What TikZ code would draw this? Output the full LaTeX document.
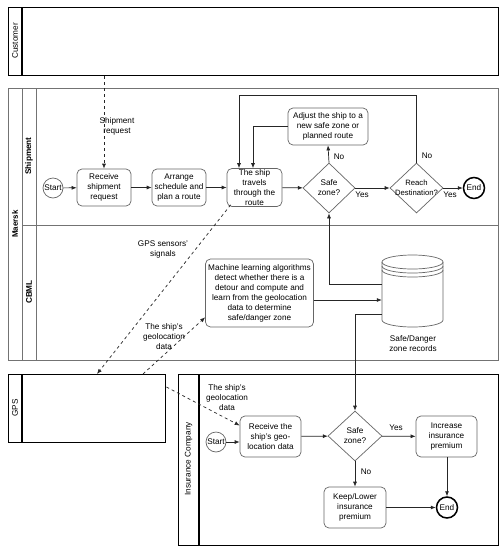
\documentclass[tikz,border=0pt]{standalone}
\usepackage{fontspec}
\setmainfont{Liberation Sans}
\usetikzlibrary{shapes.geometric,arrows.meta}
\begin{document}
\begin{tikzpicture}[x=1pt,y=-1pt,font=\fontsize{8.2}{10}\selectfont,
  pool/.style={draw=black,line width=1.4pt,inner sep=0pt},
  mpool/.style={draw=black!55,line width=1pt},
  task/.style={draw=black!60,rounded corners=5pt,align=center,inner sep=1pt,line width=0.7pt},
  gate/.style={draw=black!60,diamond,inner sep=0pt,line width=0.7pt},
  startev/.style={draw=black!60,circle,minimum size=20pt,inner sep=0pt,line width=0.7pt},
  endev/.style={draw=black,circle,minimum size=21pt,inner sep=0pt,line width=1.5pt},
  flow/.style={draw=black!85,line width=0.7pt,-{Latex[length=5pt,width=4pt]}},
  msg/.style={draw=black!85,line width=0.7pt,dashed,-{Latex[length=5pt,width=4pt]}},
  lbl/.style={align=center,inner sep=1pt},
  dbst/.style={draw=black!60,line width=0.7pt}
]
\useasboundingbox (0,0) rectangle (504,550);
\fill[white] (0,0) rectangle (504,550);

% ---- pools ----
\node[pool,anchor=north west,minimum width=490pt,minimum height=68pt] (cust) at (8,7) {};
\draw[line width=1.4pt] (22,7) -- (22,75);
\node[rotate=90] (custlbl) at (15,41) {Customer};

\node[mpool,anchor=north west,minimum width=490pt,minimum height=272pt,inner sep=0pt] (maersk) at (8,88) {};
\draw[mpool] (22,88) -- (22,360);
\draw[mpool] (36,88) -- (36,360);
\draw[mpool] (22,225) -- (498,225);
\node[rotate=90,font=\fontsize{8}{10}\bfseries] (maersklbl) at (15,224) {Maersk};
\node[rotate=90,font=\fontsize{8.2}{10}\bfseries] (shiplbl) at (29,156) {Shipment};
\node[rotate=90,font=\fontsize{8.2}{10}\bfseries] (cbmllbl) at (29,292) {CBML};

\node[pool,anchor=north west,minimum width=157pt,minimum height=68pt] (gps) at (8,374) {};
\draw[line width=1.4pt] (22,374) -- (22,442);
\node[rotate=90] (gpslbl) at (15,408) {GPS};

\node[pool,anchor=north west,minimum width=320pt,minimum height=171pt] (ins) at (178,374) {};
\draw[line width=1.4pt] (199,374) -- (199,545);
\node[rotate=90] (inslbl) at (188.5,459) {Insurance Company};

% ---- Shipment lane ----
\node[startev] (start) at (53,188) {Start};
\node[task,minimum width=54pt,minimum height=37pt] (recv) at (104,187.5) {Receive\\shipment\\request};
\node[task,minimum width=54pt,minimum height=37pt] (arr) at (179,187.5) {Arrange\\schedule and\\plan a route};
\node[task,minimum width=55pt,minimum height=37pt] (ship) at (254.5,187.5) {The ship\\travels\\through the\\route};
\node[gate,minimum width=52pt,minimum height=50pt,label={[lbl]center:Safe\\zone?}] (safe) at (329,188) {};
\node[gate,minimum width=53pt,minimum height=50pt,label={[lbl,font=\fontsize{7.7}{10}\selectfont]center:Reach\\Destination?}] (reach) at (416.5,188) {};
\node[endev] (end) at (474,188) {End};
\node[task,minimum width=80pt,minimum height=37pt] (adj) at (328,126.5) {Adjust the ship to a\\new safe zone or\\planned route};

\draw[flow] (start) -- (recv);
\draw[flow] (recv) -- (arr);
\draw[flow] (arr) -- (ship);
\draw[flow] (ship) -- (safe);
\draw[flow] (safe) -- (reach);
\draw[flow] (reach) -- (end);
\draw[flow] (safe.north) -- (adj.south);
\draw[flow] (adj.west) -| ([xshift=-1.5pt]ship.north);
\coordinate (loopA) at (416.5,95);
\draw[flow] (reach.north) -- (loopA) -| ([xshift=-15.5pt]ship.north);

\node[lbl] (no1) at (339,157) {No};
\node[lbl] (no2) at (427,156) {No};
\node[lbl] (yes1) at (362,195) {Yes};
\node[lbl] (yes2) at (450,195) {Yes};

% ---- CBML lane ----
\node[task,minimum width=108pt,minimum height=68pt] (ml) at (259.5,293) {Machine learning algorithms\\detect whether there is a\\detour and compute and\\learn from the geolocation\\data to determine\\safe/danger zone};
\node[minimum width=61pt,minimum height=72pt,inner sep=0pt] (db) at (412.5,291) {};
\draw[dbst,fill=white] (382,262) -- (382,320) arc[start angle=180,end angle=0,x radius=30.5,y radius=7] -- (443,262);
\draw[dbst] (412.5,262) ellipse[x radius=30.5,y radius=7];
\draw[dbst] (382,266) arc[start angle=180,end angle=0,x radius=30.5,y radius=7];
\draw[dbst] (382,270) arc[start angle=180,end angle=0,x radius=30.5,y radius=7];
\node[lbl] (dblbl) at (413,344) {Safe/Danger\\zone records};

\draw[flow] ([yshift=-7pt]ml.east) coordinate (mla) -- (mla -| db.west);
\draw[flow] ([yshift=7pt]db.west) -| (safe.south);

% ---- Insurance lane ----
\node[startev] (istart) at (216,442) {Start};
\node[task,minimum width=61pt,minimum height=41pt] (irecv) at (270.5,436.5) {Receive the\\ship's geo-\\location data};
\node[gate,minimum width=54pt,minimum height=50pt,label={[lbl]center:Safe\\zone?}] (isafe) at (355,436) {};
\node[task,minimum width=61pt,minimum height=41pt] (incr) at (446.5,436.5) {Increase\\insurance\\premium};
\node[task,minimum width=62pt,minimum height=41pt] (keep) at (355,507.5) {Keep/Lower\\insurance\\premium};
\node[endev] (iend) at (447,507.5) {End};

\draw[flow] (istart.east) -- (istart.east -| irecv.west);
\draw[flow] (irecv) -- (isafe);
\draw[flow] (isafe) -- (incr);
\draw[flow] (isafe) -- (keep);
\draw[flow] (incr.south -| iend) -- (iend);
\draw[flow] (keep) -- (iend);
\node[lbl] (yes3) at (396,428) {Yes};
\node[lbl] (no3) at (366,472) {No};

\draw[flow] ([yshift=-23pt]db.west) -| (isafe.north);

% ---- message flows ----
\draw[msg] (recv.north |- cust.south) -- (recv.north);
\node[lbl] (msg1) at (117,126) {Shipment\\request};
\draw[msg] ([xshift=4pt,yshift=2pt]ship.south west) -- ([xshift=89pt]gps.north west);
\node[lbl] (msg2) at (163,249) {GPS sensors'\\signals};
\draw[msg] ([xshift=135pt]gps.north west) -- ([yshift=10pt]ml.south west);
\node[lbl] (msg3) at (164,337) {The ship's\\geolocation\\data};
\draw[msg] ([yshift=-13pt]gps.north east) -- ([yshift=11pt]irecv.west);
\node[lbl] (msg4) at (227,398) {The ship's\\geolocation\\data};
\end{tikzpicture}
\end{document}
